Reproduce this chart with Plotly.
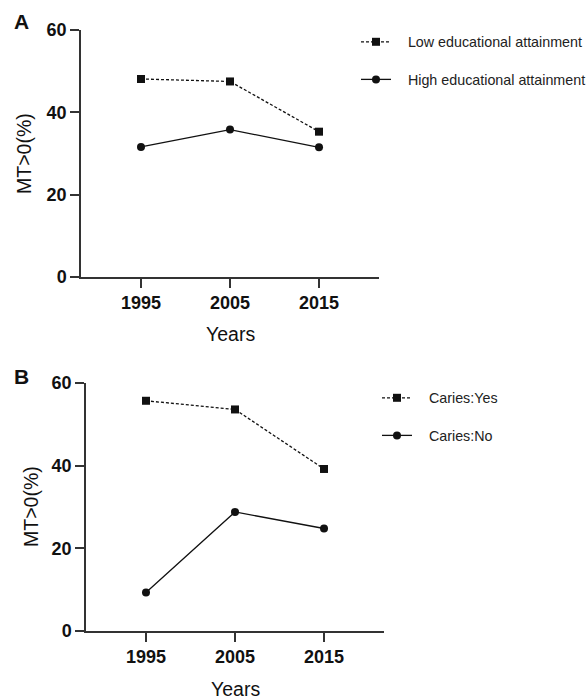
import plotly.graph_objects as go

# Survey years shared by both panels
years = [1995, 2005, 2015]

# Panel A: MT>0 prevalence (%) by educational attainment
low_edu = [48.1, 47.5, 35.3]
high_edu = [31.6, 35.8, 31.5]

# Panel B: MT>0 prevalence (%) by caries status
caries_yes = [55.7, 53.6, 39.2]
caries_no = [9.3, 28.8, 24.8]

W, H = 588, 699
INK = "#111111"
AXIS = "#333333"
FONT = "Liberation Sans, Arial, sans-serif"
# extra space between the legend symbol and its label
PAD = "\u00a0\u00a0\u00a0"


def px_x(p):
    return p / W


def px_y(p):
    return 1 - p / H


fig = go.Figure()

line_style = dict(color=INK, width=1.3)

fig.add_trace(go.Scatter(
    x=years, y=low_edu, name=PAD + "Low educational attainment",
    mode="lines+markers", xaxis="x", yaxis="y",
    line=dict(line_style, dash="3px,2px"),
    marker=dict(symbol="square", size=8, color=INK),
    legend="legend", legendgroup="a1",
))
fig.add_trace(go.Scatter(
    x=years, y=high_edu, name=PAD + "High educational attainment",
    mode="lines+markers", xaxis="x", yaxis="y",
    line=line_style,
    marker=dict(symbol="circle", size=8, color=INK),
    legend="legend", legendgroup="a2",
))
fig.add_trace(go.Scatter(
    x=years, y=caries_yes, name=PAD + "Caries:Yes",
    mode="lines+markers", xaxis="x2", yaxis="y2",
    line=dict(line_style, dash="3px,2px"),
    marker=dict(symbol="square", size=8, color=INK),
    legend="legend2", legendgroup="b1",
))
fig.add_trace(go.Scatter(
    x=years, y=caries_no, name=PAD + "Caries:No",
    mode="lines+markers", xaxis="x2", yaxis="y2",
    line=line_style,
    marker=dict(symbol="circle", size=8, color=INK),
    legend="legend2", legendgroup="b2",
))

axis_common = dict(
    showline=True, linecolor=AXIS, linewidth=1.5,
    ticks="outside", ticklen=9, tickwidth=1.5, tickcolor=AXIS,
    showgrid=False, zeroline=False,
    tickfont=dict(family=FONT, size=18, color=INK, weight="bold"),
)

xr = [1988.26, 2021.74]

legend_common = dict(
    xanchor="left", yanchor="top", bgcolor="rgba(0,0,0,0)",
    traceorder="grouped", tracegroupgap=16,
    font=dict(family=FONT, size=14.3, color="#222222"),
)

fig.update_layout(
    width=W, height=H,
    margin=dict(l=0, r=0, t=0, b=0, autoexpand=False),
    paper_bgcolor="white", plot_bgcolor="white",
    font=dict(family=FONT, color=INK),
    xaxis=dict(axis_common, domain=[px_x(81), px_x(379)], range=xr,
               tickvals=years, anchor="y"),
    yaxis=dict(axis_common, domain=[px_y(277), px_y(30)], range=[0, 60],
               tickvals=[0, 20, 40, 60], anchor="x"),
    xaxis2=dict(axis_common, domain=[px_x(86), px_x(384)], range=xr,
                tickvals=years, anchor="y2"),
    yaxis2=dict(axis_common, domain=[px_y(631), px_y(383)], range=[0, 60],
                tickvals=[0, 20, 40, 60], anchor="x2"),
    legend=dict(legend_common, x=px_x(356), y=px_y(26)),
    legend2=dict(legend_common, x=px_x(377), y=px_y(382)),
)

title_font = dict(family=FONT, size=19.5, color=INK)
letter_font = dict(family=FONT, size=21, color=INK, weight="bold")

annotations = [
    dict(text="A", x=px_x(21), y=px_y(21), font=letter_font),
    dict(text="B", x=px_x(21), y=px_y(376), font=letter_font),
    dict(text="MT>0(%)", x=px_x(24), y=px_y(153), textangle=-90, font=title_font),
    dict(text="MT>0(%)", x=px_x(31), y=px_y(507), textangle=-90, font=title_font),
    dict(text="Years", x=px_x(230), y=px_y(334), font=title_font),
    dict(text="Years", x=px_x(235), y=px_y(689), font=title_font),
]
for a in annotations:
    a.update(xref="paper", yref="paper", showarrow=False,
             xanchor="center", yanchor="middle")
fig.update_layout(annotations=annotations)

fig.write_html("out.html")
